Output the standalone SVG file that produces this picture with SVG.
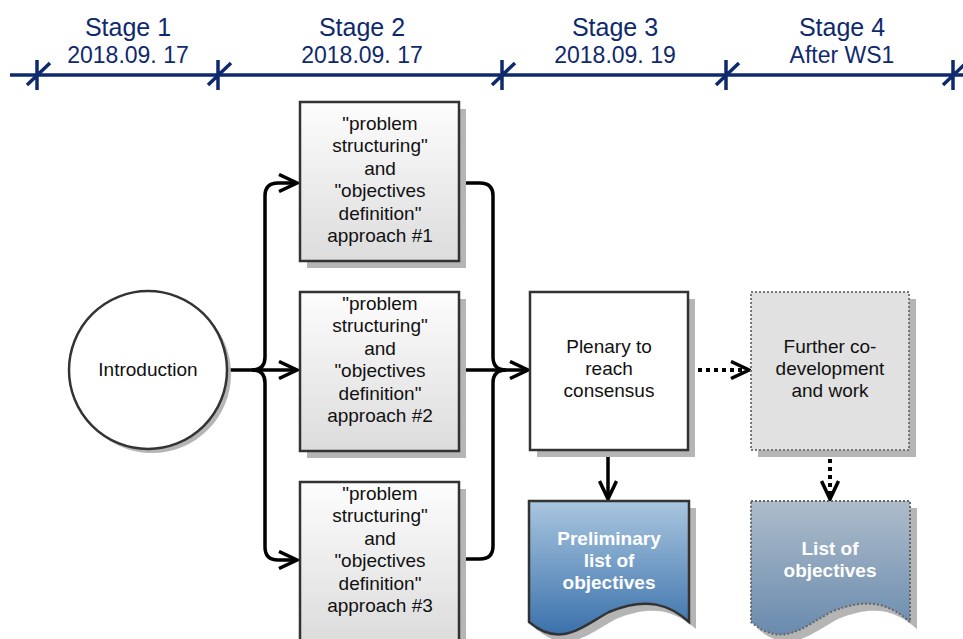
<svg xmlns="http://www.w3.org/2000/svg" width="963" height="639" viewBox="0 0 963 639">
<defs>
<style>
.tl{stroke:#0f2a6c;stroke-width:3.5;fill:none}
.st{font-family:"Liberation Sans",Arial,sans-serif;fill:#0f2a6c;text-anchor:middle}
.t{font-family:"Liberation Sans",Arial,sans-serif;font-size:19px;fill:#111;text-anchor:middle}
.tw{font-family:"Liberation Sans",Arial,sans-serif;font-size:19px;font-weight:bold;fill:#fff;text-anchor:middle}
.sh{fill:#b5b5b5}
.box{fill:url(#gbox);stroke:#333;stroke-width:2.5}
.c{stroke:#000;stroke-width:3.5;fill:none;stroke-linejoin:round}
.d{stroke:#000;stroke-width:4;fill:none;stroke-dasharray:4,4}
</style>
<linearGradient id="gbox" x1="0" y1="0" x2="0" y2="1"><stop offset="0" stop-color="#fdfdfd"/><stop offset="1" stop-color="#dcdcdc"/></linearGradient>
<linearGradient id="gdoc1" x1="0" y1="0" x2="0" y2="1"><stop offset="0" stop-color="#aac6df"/><stop offset="1" stop-color="#3a71ab"/></linearGradient>
<linearGradient id="gdoc2" x1="0" y1="0" x2="0" y2="1"><stop offset="0" stop-color="#adbccb"/><stop offset="1" stop-color="#6a8bae"/></linearGradient>
<marker id="ah" viewBox="0 0 22 20" refX="20" refY="10" markerWidth="22" markerHeight="20" markerUnits="userSpaceOnUse" orient="auto">
<path d="M2,1.5 L20,10 L2,18.5" fill="none" stroke="#000" stroke-width="3.5"/>
</marker>
</defs>
<rect width="963" height="639" fill="#fff"/>

<g id="timeline">
<line class="tl" x1="10" y1="75" x2="963" y2="75"/>
<path class="tl" d="M37,60 V90 M27,85 L50,63"/>
<path class="tl" d="M218,60 V90 M208,85 L231,63"/>
<path class="tl" d="M502,60 V90 M492,85 L515,63"/>
<path class="tl" d="M726,60 V90 M716,85 L739,63"/>
<path class="tl" d="M953,60 V90 M943,85 L966,63"/>
<text class="st" x="128" y="36" font-size="25">Stage 1</text>
<text class="st" x="128" y="63" font-size="23">2018.09. 17</text>
<text class="st" x="362" y="36" font-size="25">Stage 2</text>
<text class="st" x="362" y="63" font-size="23">2018.09. 17</text>
<text class="st" x="615" y="36" font-size="25">Stage 3</text>
<text class="st" x="615" y="63" font-size="23">2018.09. 19</text>
<text class="st" x="842" y="36" font-size="25">Stage 4</text>
<text class="st" x="842" y="63" font-size="23">After WS1</text>
</g>

<g id="connectors">
<path class="c" d="M228,370 H297" marker-end="url(#ah)"/>
<path class="c" d="M252,370 Q265,370 265,357 V196 Q265,183 278,183 H297" marker-end="url(#ah)"/>
<path class="c" d="M252,370 Q265,370 265,383 V547 Q265,560 278,560 H297" marker-end="url(#ah)"/>
<path class="c" d="M459,183 H480 Q493,183 493,196 V357 Q493,370 506,370"/>
<path class="c" d="M459,559 H480 Q493,559 493,546 V383 Q493,370 506,370"/>
<path class="c" d="M459,370 H528" marker-end="url(#ah)"/>
<path class="c" d="M608,451 V499" marker-end="url(#ah)"/>
<path class="d" d="M690,370 H749" marker-end="url(#ah)"/>
<path class="d" d="M830,451 V499" marker-end="url(#ah)"/>
</g>

<g id="intro">
<circle cx="152" cy="374" r="79" class="sh"/>
<circle cx="148" cy="370" r="79" fill="#fff" stroke="#333" stroke-width="2.5"/>
<text class="t" x="148" y="376">Introduction</text>
</g>

<g id="approach1">
<rect x="307" y="109" width="159" height="159" class="sh"/>
<rect x="300" y="102" width="159" height="159" class="box"/>
<text class="t" x="380" y="130">"problem</text>
<text class="t" x="380" y="152.4">structuring"</text>
<text class="t" x="380" y="174.8">and</text>
<text class="t" x="380" y="197.2">"objectives</text>
<text class="t" x="380" y="219.6">definition"</text>
<text class="t" x="380" y="242">approach #1</text>
</g>

<g id="approach2">
<rect x="307" y="299" width="159" height="159" class="sh"/>
<rect x="300" y="292" width="159" height="159" class="box"/>
<text class="t" x="380" y="310">"problem</text>
<text class="t" x="380" y="332.4">structuring"</text>
<text class="t" x="380" y="354.8">and</text>
<text class="t" x="380" y="377.2">"objectives</text>
<text class="t" x="380" y="399.6">definition"</text>
<text class="t" x="380" y="422">approach #2</text>
</g>

<g id="approach3">
<rect x="307" y="489" width="159" height="159" class="sh"/>
<rect x="300" y="482" width="159" height="159" class="box"/>
<text class="t" x="380" y="500">"problem</text>
<text class="t" x="380" y="522.4">structuring"</text>
<text class="t" x="380" y="544.8">and</text>
<text class="t" x="380" y="567.2">"objectives</text>
<text class="t" x="380" y="589.6">definition"</text>
<text class="t" x="380" y="612">approach #3</text>
</g>

<g id="plenary">
<rect x="537" y="299" width="158" height="158" class="sh"/>
<rect x="530" y="292" width="158" height="158" fill="#fff" stroke="#333" stroke-width="2.5"/>
<text class="t" x="609" y="353">Plenary to</text>
<text class="t" x="609" y="375">reach</text>
<text class="t" x="609" y="397">consensus</text>
</g>

<g id="further">
<rect x="758" y="299" width="158" height="158" class="sh"/>
<rect x="751" y="292" width="158" height="158" fill="#e1e1e1" stroke="#777" stroke-width="2" stroke-dasharray="2,2"/>
<text class="t" x="830" y="353">Further co-</text>
<text class="t" x="830" y="375">development</text>
<text class="t" x="830" y="397">and work</text>
</g>

<g id="prelim">
<path class="sh" d="M536,508 H696 V629 C677,612 654,603 616,619 C587,635 567,655 536,629 Z"/>
<path d="M529,501 H689 V622 C670,605 647,596 609,612 C580,628 560,648 529,622 Z" fill="url(#gdoc1)" stroke="#333" stroke-width="2.5"/>
<text class="tw" x="609" y="545">Preliminary</text>
<text class="tw" x="609" y="567">list of</text>
<text class="tw" x="609" y="589">objectives</text>
</g>

<g id="list">
<path class="sh" d="M758,508 H917 V629 C898,612 876,603 838,619 C809,635 789,655 758,629 Z"/>
<path d="M751,501 H910 V622 C891,605 869,596 831,612 C802,628 782,648 751,622 Z" fill="url(#gdoc2)" stroke="#666" stroke-width="2" stroke-dasharray="2,2"/>
<text class="tw" x="830" y="555">List of</text>
<text class="tw" x="830" y="577">objectives</text>
</g>
</svg>
